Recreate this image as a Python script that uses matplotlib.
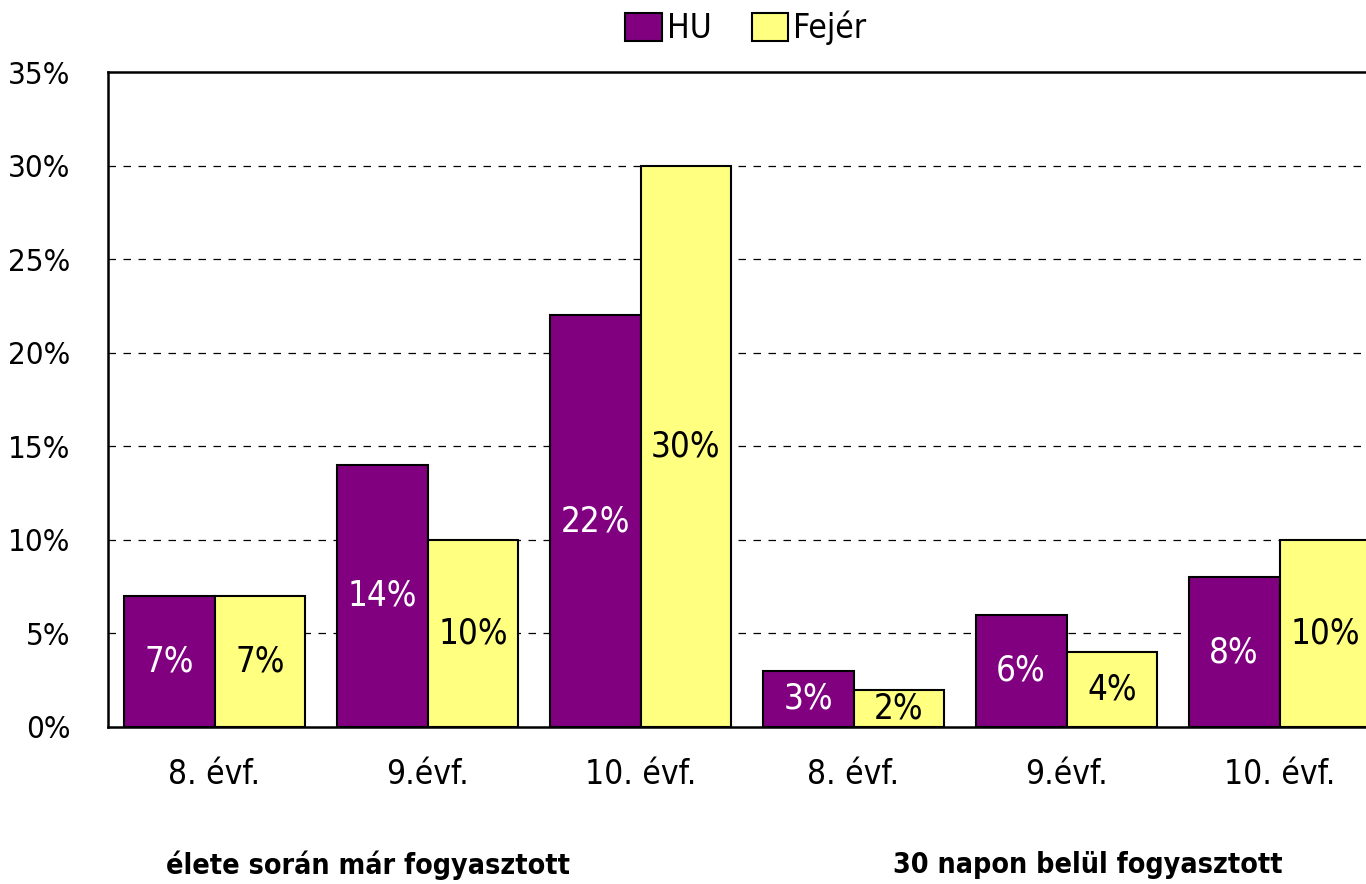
import numpy as np
import matplotlib.pyplot as plt
from matplotlib.patches import Patch
import matplotlib.transforms as mtransforms

plt.rcParams['font.family'] = ['DejaVu Sans']
plt.rcParams['font.stretch'] = 'condensed'

categories = ["8. évf.", "9.évf.", "10. évf.", "8. évf.", "9.évf.", "10. évf."]
hu = [7, 14, 22, 3, 6, 8]
fejer = [7, 10, 30, 2, 4, 10]
groups = ["élete során már fogyasztott", "30 napon belül fogyasztott"]
group_x = [0.72, 4.1]

purple = "#800080"
yellow = "#FFFF80"

fig = plt.figure(figsize=(13.66, 8.84), dpi=100)
ax = fig.add_axes([108 / 1366, 157 / 884, 1278 / 1366, 655 / 884])

x = np.arange(len(categories))
w = 0.427
ax.bar(x - w / 2, hu, width=w, color=purple, edgecolor="black", linewidth=1.5, zorder=3)
ax.bar(x + w / 2, fejer, width=w, color=yellow, edgecolor="black", linewidth=1.5, zorder=3)

for xi, v in zip(x, hu):
    ax.text(xi - w / 2, v / 2, f"{v}%", ha="center", va="center", color="white", fontsize=25, zorder=4)
for xi, v in zip(x, fejer):
    ax.text(xi + w / 2, v / 2, f"{v}%", ha="center", va="center", color="black", fontsize=25, zorder=4)

ax.set_xlim(-0.5, 5.5)
ax.set_ylim(0, 35)
ax.set_yticks(range(0, 36, 5))
ax.set_yticklabels([f"{t}%" for t in range(0, 36, 5)], fontsize=22.5)
ax.set_xticks(x)
ax.set_xticklabels(categories, fontsize=24)
ax.tick_params(axis="x", length=0, pad=22)
ax.tick_params(axis="y", length=0, pad=27)

for t in range(5, 35, 5):
    ax.axhline(t, color="black", linestyle=(0, (6, 6)), linewidth=0.9, zorder=1)

for sp in ax.spines.values():
    sp.set_linewidth(1.8)
    sp.set_color("black")

trans = mtransforms.blended_transform_factory(ax.transData, fig.transFigure)
for gx, g in zip(group_x, groups):
    ax.text(gx, (884 - 865) / 884, g, transform=trans, ha="center", va="center",
            fontsize=20.5, fontweight="bold")

handles = [Patch(facecolor=purple, edgecolor="black", linewidth=1.5, label="HU"),
           Patch(facecolor=yellow, edgecolor="black", linewidth=1.5, label="Fejér")]
fig.legend(handles=handles, loc="center", bbox_to_anchor=(746 / 1366, 1 - 28 / 884),
           ncol=2, frameon=False, fontsize=24, handlelength=1.1, handleheight=0.9,
           handletextpad=0.15, columnspacing=1.2)

fig.savefig("out.png", dpi=100)
